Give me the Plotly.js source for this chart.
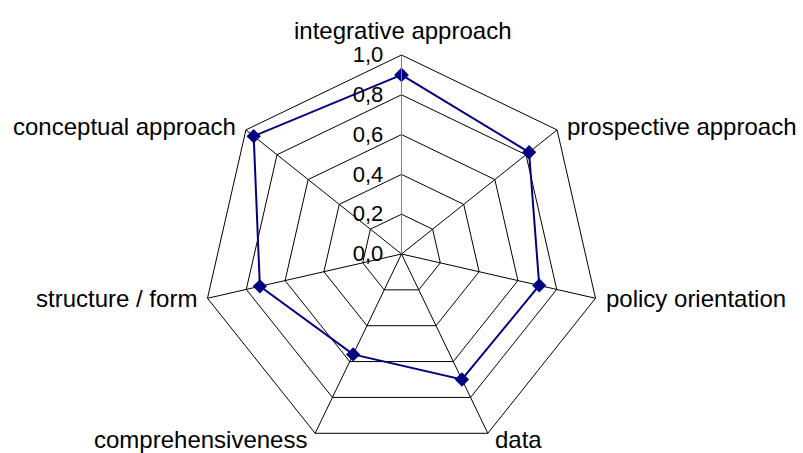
<!DOCTYPE html>
<html>
<head>
<meta charset="utf-8">
<script src="https://cdn.plot.ly/plotly-3.0.1.min.js"></script>
<style>html,body{margin:0;padding:0;background:#fff;}#chart{width:803px;height:453px;}</style>
</head>
<body>
<div id="chart"></div>
<script>
var categories = ["integrative approach", "prospective approach", "policy orientation", "data", "comprehensiveness", "structure / form", "conceptual approach"];
var values = [0.9, 0.82, 0.71, 0.70, 0.56, 0.73, 0.95];
var radialTicks = [0, 0.2, 0.4, 0.6, 0.8, 1.0];
var radialTickLabels = ["0,0", "0,2", "0,4", "0,6", "0,8", "1,0"];

var theta = categories.concat([categories[0]]);
var r = values.concat([values[0]]);

var trace = {
  type: "scatterpolar",
  mode: "lines+markers",
  r: r,
  theta: theta,
  line: {color: "#000080", width: 2},
  marker: {symbol: "diamond", size: 11, color: "#000080"},
  cliponaxis: false,
  hoverinfo: "none"
};

var W = 803, H = 453;
var R = 199, cx = 401.5, cy = 254;
var FS = 24;

// category labels placed just outside each outer vertex
var annotations = categories.map(function (name, i) {
  var a = 2 * Math.PI * i / categories.length;
  var s = Math.sin(a), c = Math.cos(a);
  var vx = cx + R * s, vy = cy - R * c;
  var xanchor = Math.abs(s) < 0.1 ? "center" : (s > 0 ? "left" : "right");
  var xshift = Math.abs(s) < 0.1 ? 1 : (s > 0 ? 8 : -8);
  var dy;
  if (c > 0.9) dy = -24;
  else if (c > 0.3) dy = -3;
  else if (c > -0.5) dy = 0;
  else { dy = 6; xshift = s > 0 ? 5 : -6; }
  return {
    text: name,
    xref: "paper", yref: "paper",
    x: vx / W, y: (H - vy) / H,
    xanchor: xanchor, yanchor: "middle",
    xshift: xshift, yshift: -dy,
    showarrow: false,
    font: {size: FS, color: "#000"}
  };
});

var layout = {
  width: W, height: H,
  margin: {l: 0, r: 0, t: 0, b: 0},
  paper_bgcolor: "#fff",
  showlegend: false,
  font: {family: "Liberation Sans, Arial, sans-serif", size: FS, color: "#000"},
  annotations: annotations,
  polar: {
    domain: {x: [(cx - R) / W, (cx + R) / W], y: [(H - cy - R) / H, (H - cy + R) / H]},
    gridshape: "linear",
    bgcolor: "#fff",
    angularaxis: {
      direction: "clockwise",
      rotation: 90,
      type: "category",
      categoryarray: categories,
      linecolor: "#000",
      linewidth: 1,
      gridcolor: "#000",
      gridwidth: 1,
      ticks: "",
      showticklabels: false
    },
    radialaxis: {
      range: [0, 1],
      angle: 90,
      side: "counterclockwise",
      tickangle: 90,
      tickvals: radialTicks,
      ticktext: radialTickLabels,
      showline: true,
      linecolor: "#808080",
      linewidth: 1,
      gridcolor: "#000",
      gridwidth: 1,
      ticks: "outside",
      ticklen: 10,
      tickcolor: "rgba(0,0,0,0)",
      tickfont: {size: 22, color: "#000"}
    }
  }
};

Plotly.newPlot("chart", [trace], layout, {staticPlot: true});
</script>
</body>
</html>
